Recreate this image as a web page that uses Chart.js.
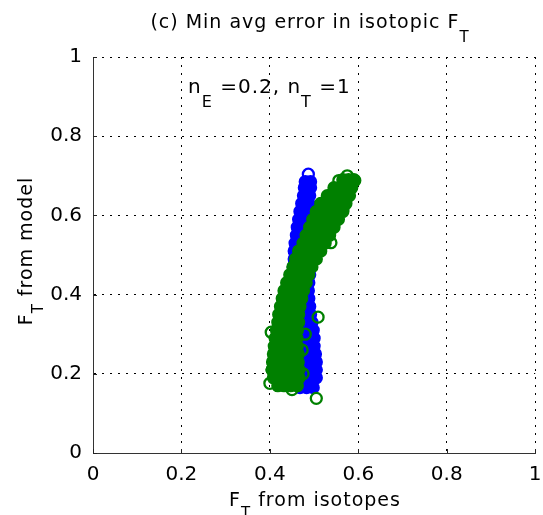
<!DOCTYPE html>
<html>
<head>
<meta charset="utf-8">
<script src="https://cdn.jsdelivr.net/npm/chart.js@4/dist/chart.umd.min.js"></script>
<style>
  html, body { margin: 0; padding: 0; background: #fff; }
  #wrap { width: 543px; height: 515px; }
</style>
</head>
<body>
<div id="wrap"><canvas id="scatterChart" width="543" height="515"></canvas></div>
<script>
// axis ticks
const tickValues = [0, 0.2, 0.4, 0.6, 0.8, 1];

// dense part of each cloud, [F_T isotopes, F_T model]
const greenCore = [
  [0.418, 0.17], [0.432, 0.17], [0.447, 0.17], [0.462, 0.17],
  [0.408, 0.19], [0.422, 0.19], [0.437, 0.19], [0.452, 0.19], [0.466, 0.19],
  [0.405, 0.21], [0.420, 0.21], [0.435, 0.21], [0.450, 0.21], [0.466, 0.21],
  [0.406, 0.23], [0.421, 0.23], [0.436, 0.23], [0.451, 0.23], [0.464, 0.23],
  [0.408, 0.25], [0.423, 0.25], [0.438, 0.25], [0.452, 0.25], [0.464, 0.25],
  [0.410, 0.27], [0.424, 0.27], [0.438, 0.27], [0.451, 0.27], [0.462, 0.27],
  [0.412, 0.29], [0.426, 0.29], [0.440, 0.29], [0.452, 0.29], [0.461, 0.29],
  [0.415, 0.31], [0.428, 0.31], [0.441, 0.31], [0.453, 0.31], [0.462, 0.31],
  [0.418, 0.33], [0.431, 0.33], [0.444, 0.33], [0.456, 0.33], [0.465, 0.33],
  [0.420, 0.35], [0.433, 0.35], [0.446, 0.35], [0.458, 0.35], [0.465, 0.35],
  [0.424, 0.37], [0.437, 0.37], [0.450, 0.37], [0.461, 0.37], [0.468, 0.37],
  [0.428, 0.39], [0.441, 0.39], [0.454, 0.39], [0.465, 0.39], [0.472, 0.39],
  [0.432, 0.41], [0.445, 0.41], [0.458, 0.41], [0.469, 0.41], [0.476, 0.41],
  [0.438, 0.43], [0.451, 0.43], [0.463, 0.43], [0.474, 0.43], [0.482, 0.43],
  [0.445, 0.45], [0.457, 0.45], [0.469, 0.45], [0.480, 0.45], [0.488, 0.45],
  [0.452, 0.47], [0.464, 0.47], [0.476, 0.47], [0.487, 0.47], [0.495, 0.47],
  [0.458, 0.49], [0.471, 0.49], [0.484, 0.49], [0.496, 0.49], [0.505, 0.49],
  [0.465, 0.51], [0.478, 0.51], [0.491, 0.51], [0.504, 0.51], [0.515, 0.51],
  [0.475, 0.53], [0.488, 0.53], [0.500, 0.53], [0.513, 0.53], [0.525, 0.53],
  [0.482, 0.55], [0.495, 0.55], [0.508, 0.55], [0.522, 0.55], [0.535, 0.55],
  [0.490, 0.57], [0.503, 0.57], [0.517, 0.57], [0.531, 0.57], [0.545, 0.57],
  [0.497, 0.59], [0.511, 0.59], [0.526, 0.59], [0.541, 0.59], [0.555, 0.59],
  [0.505, 0.61], [0.520, 0.61], [0.535, 0.61], [0.550, 0.61], [0.565, 0.61],
  [0.515, 0.63], [0.529, 0.63], [0.544, 0.63], [0.558, 0.63], [0.572, 0.63],
  [0.530, 0.65], [0.543, 0.65], [0.556, 0.65], [0.569, 0.65], [0.580, 0.65],
  [0.545, 0.67], [0.558, 0.67], [0.572, 0.67], [0.585, 0.67],
  [0.565, 0.69], [0.578, 0.69], [0.590, 0.69]
];

// loose green points whose rings stay visible
const greenRings = [
  [0.509, 0.343], [0.505, 0.138], [0.400, 0.176], [0.538, 0.531],
  [0.565, 0.615], [0.592, 0.688], [0.575, 0.700], [0.556, 0.688],
  [0.403, 0.305], [0.405, 0.210], [0.450, 0.160], [0.475, 0.200],
  [0.473, 0.260], [0.480, 0.300]
];

const blueCore = [
  [0.468, 0.165], [0.483, 0.165], [0.498, 0.165],
  [0.450, 0.19], [0.465, 0.19], [0.480, 0.19], [0.495, 0.19], [0.505, 0.19],
  [0.448, 0.21], [0.463, 0.21], [0.478, 0.21], [0.493, 0.21], [0.505, 0.21],
  [0.448, 0.23], [0.463, 0.23], [0.478, 0.23], [0.493, 0.23], [0.505, 0.23],
  [0.448, 0.25], [0.463, 0.25], [0.478, 0.25], [0.492, 0.25], [0.503, 0.25],
  [0.448, 0.27], [0.463, 0.27], [0.478, 0.27], [0.490, 0.27], [0.500, 0.27],
  [0.448, 0.29], [0.462, 0.29], [0.476, 0.29], [0.489, 0.29], [0.500, 0.29],
  [0.448, 0.31], [0.462, 0.31], [0.475, 0.31], [0.487, 0.31], [0.498, 0.31],
  [0.448, 0.33], [0.461, 0.33], [0.474, 0.33], [0.485, 0.33], [0.495, 0.33],
  [0.449, 0.35], [0.461, 0.35], [0.473, 0.35], [0.483, 0.35], [0.492, 0.35],
  [0.450, 0.37], [0.461, 0.37], [0.472, 0.37], [0.481, 0.37], [0.490, 0.37],
  [0.450, 0.39], [0.461, 0.39], [0.471, 0.39], [0.480, 0.39], [0.488, 0.39],
  [0.451, 0.41], [0.462, 0.41], [0.472, 0.41], [0.480, 0.41], [0.487, 0.41],
  [0.452, 0.43], [0.463, 0.43], [0.473, 0.43], [0.481, 0.43], [0.488, 0.43],
  [0.453, 0.45], [0.464, 0.45], [0.474, 0.45], [0.482, 0.45], [0.490, 0.45],
  [0.453, 0.47], [0.464, 0.47], [0.475, 0.47], [0.482, 0.47], [0.488, 0.47],
  [0.455, 0.49], [0.465, 0.49], [0.475, 0.49], [0.485, 0.49],
  [0.455, 0.51], [0.465, 0.51], [0.475, 0.51], [0.483, 0.51],
  [0.457, 0.53], [0.466, 0.53], [0.475, 0.53], [0.482, 0.53],
  [0.460, 0.55], [0.468, 0.55], [0.476, 0.55], [0.482, 0.55],
  [0.462, 0.57], [0.470, 0.57], [0.477, 0.57], [0.482, 0.57],
  [0.465, 0.59], [0.472, 0.59], [0.479, 0.59], [0.484, 0.59],
  [0.468, 0.61], [0.475, 0.61], [0.481, 0.61], [0.486, 0.61],
  [0.472, 0.63], [0.478, 0.63], [0.484, 0.63], [0.488, 0.63],
  [0.476, 0.65], [0.482, 0.65], [0.486, 0.65], [0.490, 0.65],
  [0.478, 0.67], [0.484, 0.67], [0.488, 0.67], [0.492, 0.67],
  [0.480, 0.685], [0.492, 0.685]
];

const blueRings = [
  [0.487, 0.704]
];

const GREEN = "#008000";
const BLUE = "#0000ff";
const FONT = "DejaVu Sans";

function toXY(list) {
  return list.map(([x, y]) => ({ x, y }));
}

function pointSet(list, color, filled, order) {
  return {
    data: toXY(list),
    order: order,
    showLine: false,
    pointStyle: "circle",
    pointRadius: 5.5,
    pointHoverRadius: 5.5,
    pointBorderWidth: 2.3,
    borderColor: color,
    backgroundColor: filled ? color : "rgba(0,0,0,0)"
  };
}

// text with TeX style subscripts, drawn piece by piece
function drawRich(ctx, parts, x, y, size, subDrop, align) {
  ctx.save();
  ctx.letterSpacing = "1px";
  ctx.fillStyle = "#000";
  ctx.textBaseline = "alphabetic";
  ctx.textAlign = "left";
  const widths = parts.map(p => {
    ctx.font = `${p.sub ? Math.round(size * 0.8) : size}px "${FONT}"`;
    return ctx.measureText(p.t).width;
  });
  const total = widths.reduce((a, b) => a + b, 0);
  let cx = align === "center" ? x - total / 2 : x;
  parts.forEach((p, i) => {
    ctx.font = `${p.sub ? Math.round(size * 0.8) : size}px "${FONT}"`;
    ctx.fillText(p.t, cx, p.sub ? y + subDrop : y);
    cx += widths[i];
  });
  ctx.restore();
}

const labelsPlugin = {
  id: "labels",
  afterDraw(chart) {
    const { ctx, chartArea, scales } = chart;

    // inward tick marks on the solid axes
    ctx.save();
    ctx.strokeStyle = "#222";
    ctx.lineWidth = 1;
    tickValues.forEach(v => {
      const px = Math.round(scales.x.getPixelForValue(v)) + 0.5;
      const py = Math.round(scales.y.getPixelForValue(v)) + 0.5;
      ctx.beginPath();
      ctx.moveTo(px, chartArea.bottom);
      ctx.lineTo(px, chartArea.bottom - 4);
      ctx.moveTo(chartArea.left, py);
      ctx.lineTo(chartArea.left + 4, py);
      ctx.stroke();
    });
    ctx.restore();

    drawRich(ctx, [{ t: "(c) Min avg error in isotopic F" }, { t: "T", sub: true }],
      310, 28, 19, 14, "center");

    drawRich(ctx, [
      { t: "n" }, { t: "E", sub: true }, { t: " =0.2, n" }, { t: "T", sub: true }, { t: " =1" }
    ], 188, 93, 20, 14, "left");

    drawRich(ctx, [{ t: "F" }, { t: "T", sub: true }, { t: " from isotopes" }],
      315, 506, 19, 12, "center");

    ctx.save();
    ctx.translate(32, 251);
    ctx.rotate(-Math.PI / 2);
    drawRich(ctx, [{ t: "F" }, { t: "T", sub: true }, { t: " from model" }],
      0, 0, 19, 11, "center");
    ctx.restore();
  }
};

function axisOptions(isX) {
  return {
    type: "linear",
    min: 0,
    max: 1,
    afterBuildTicks: scale => {
      scale.ticks = tickValues.map(v => ({ value: v }));
    },
    afterFit: scale => {
      if (isX) {
        scale.height = 62;
      } else {
        scale.width = 93;
      }
      scale.paddingLeft = 0;
      scale.paddingRight = 0;
      scale.paddingTop = 0;
      scale.paddingBottom = 0;
    },
    ticks: {
      color: "#000",
      padding: isX ? 10 : 11,
      maxRotation: 0,
      autoSkip: false,
      font: { family: FONT, size: 20 },
      callback: v => String(v)
    },
    grid: {
      color: "#000",
      lineWidth: 1,
      drawTicks: false
    },
    border: {
      display: true,
      color: "#333",
      width: 1,
      dash: [2, 6]
    }
  };
}

new Chart(document.getElementById("scatterChart"), {
  type: "scatter",
  data: {
    datasets: [
      pointSet(greenRings, GREEN, false, 0),
      pointSet(greenCore, GREEN, true, 1),
      pointSet(blueRings, BLUE, false, 2),
      pointSet(blueCore, BLUE, true, 3)
    ]
  },
  options: {
    responsive: false,
    animation: false,
    layout: { padding: { left: 0, right: 4, top: 57, bottom: 0 } },
    plugins: {
      legend: { display: false },
      tooltip: { enabled: false }
    },
    scales: {
      x: axisOptions(true),
      y: axisOptions(false)
    }
  },
  plugins: [labelsPlugin]
});
</script>
</body>
</html>
